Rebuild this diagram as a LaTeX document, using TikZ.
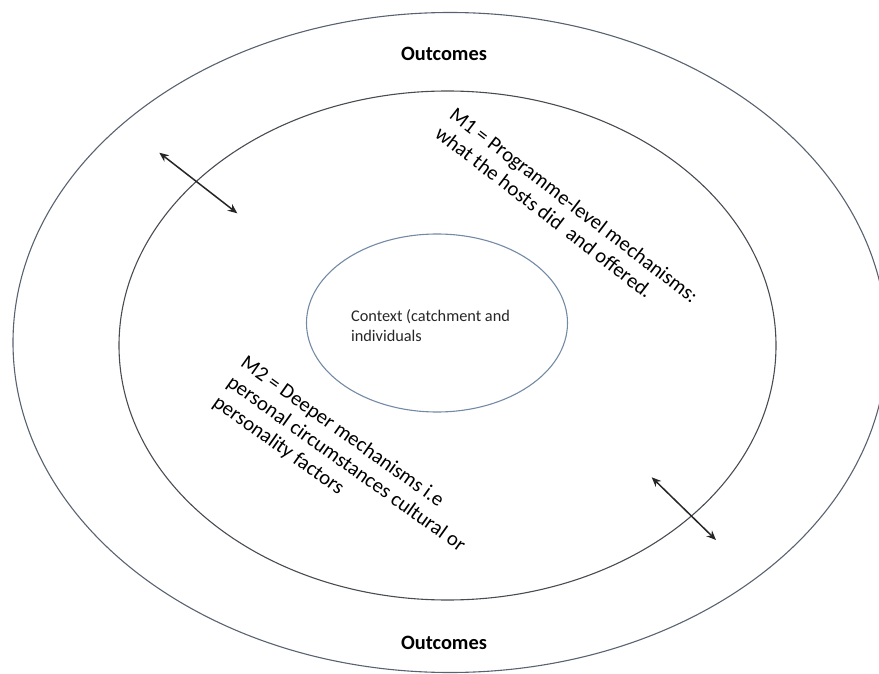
\documentclass[tikz,border=0pt]{standalone}
\usepackage{fontspec}
\setmainfont{Carlito}
\usetikzlibrary{arrows.meta}
\definecolor{outerring}{RGB}{88,98,112}
\definecolor{middlering}{RGB}{72,76,82}
\definecolor{innerring}{RGB}{115,138,165}
\begin{document}
\begin{tikzpicture}[x=1pt,y=-1pt,
  ring/.style={line width=1.1pt},
  txt/.style={inner sep=0pt, text=black},
  heading/.style={txt, font=\fontsize{20.4}{24}\selectfont\bfseries},
  mechtext/.style={txt, align=left, font=\fontsize{20.7}{24}\selectfont},
  twoway/.style={{Stealth[length=9.5pt,width=8pt]}-{Stealth[length=9.5pt,width=8pt]},
                 line width=1.5pt, draw=black!85},
]
\useasboundingbox (0,0) rectangle (879,674);
\clip (0,0) rectangle (879,674);

% three nested rings
\draw[ring, draw=outerring]  (450,342.5) ellipse [x radius=437pt, y radius=330pt];
\draw[ring, draw=middlering] (447.5,345.5) ellipse [x radius=328.5pt, y radius=254.5pt];
\draw[ring, draw=innerring]  (437,323) ellipse [x radius=130.5pt, y radius=89pt];

% ring labels
\node[heading] (outtop) at (444,54) {Outcomes};
\node[heading] (outbot) at (444,643) {Outcomes};

\node[txt, align=left, text=black!85, font=\fontsize{16.3}{20}\selectfont]
  (context) at (430.5,326) {Context (catchment and\\individuals};

\node[mechtext, rotate=-37.5] (mone) at (567,214.5)
  {M1 = Programme-level mechanisms:\\what the hosts did\ \ and offered.};

\node[mechtext, rotate=-35.5] (mtwo) at (346,464.5)
  {M2 = Deeper mechanisms i.e\\personal circumstances cultural or\\personality factors};

% two-way arrows across the middle ring
\coordinate (upA) at (159.3,152.7);
\coordinate (upB) at (237.3,213.3);
\coordinate (lowA) at (651.7,477.3);
\coordinate (lowB) at (716,540);
\draw[twoway] (upA) -- (upB);
\draw[twoway] (lowA) -- (lowB);
\end{tikzpicture}
\end{document}
